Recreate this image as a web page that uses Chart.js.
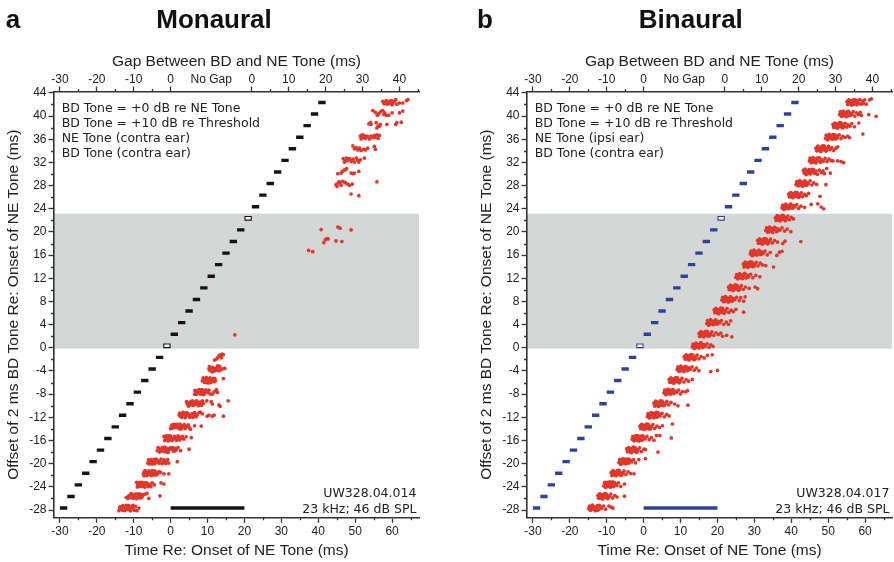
<!DOCTYPE html>
<html>
<head>
<meta charset="utf-8">
<script src="https://cdn.jsdelivr.net/npm/chart.js@4.4.1/dist/chart.umd.min.js"></script>
<style>
  body { margin: 0; background: #fff; }
  #wrap { position: relative; width: 894px; height: 562px; overflow: hidden; }
  canvas { position: absolute; top: 0; }
</style>
</head>
<body>
<div id="wrap">
  <canvas id="monaural" width="447" height="562" style="left:0"></canvas>
  <canvas id="binaural" width="447" height="562" style="left:447px"></canvas>
</div>
<script>
// Raster rows: offset of the 2 ms BD tone re NE tone onset (ms)
const rowOffsets = [-28, -26, -24, -22, -20, -18, -16, -14, -12, -10, -8, -6, -4, -2, 0, 2, 4, 6, 8, 10, 12, 14, 16, 18, 20, 22, 24, 26, 28, 30, 32, 34, 36, 38, 40, 42];
const openRows = [0, 22];          // drawn as open boxes
const shadedBand = [-0.15, 23.15]; // BD tone overlapping NE tone
const neTone = [0, 20];            // NE tone duration bar (ms)
const bdDuration = 2;
const rowLift = 0.35;

const yTicks = [-28, -24, -20, -16, -12, -8, -4, 0, 4, 8, 12, 16, 20, 24, 28, 32, 36, 40, 44];
const yMinorTicks = [-26, -22, -18, -14, -10, -6, -2, 2, 6, 10, 14, 18, 22, 26, 30, 34, 38, 42];
const xTicks = [-30, -20, -10, 0, 10, 20, 30, 40, 50, 60];
const xMinorTicks = [-25, -15, -5, 5, 15, 25, 35, 45, 55, 65];
const gapTickPos = [-30, -20, -10, 0, 11, 22, 32, 42, 52, 62];
const gapTickLabels = ['-30', '-20', '-10', '0', 'No Gap', '0', '10', '20', '30', '40'];
const gapMinorTicks = [-25, -15, -5, 27, 37, 47, 57, 67];

const monauralNotes = ['BD Tone = +0 dB re NE Tone', 'BD Tone = +10 dB re Threshold', 'NE Tone (contra ear)', 'BD Tone (contra ear)'];
const binauralNotes = ['BD Tone = +0 dB re NE Tone', 'BD Tone = +10 dB re Threshold', 'NE Tone (ipsi ear)', 'BD Tone (contra ear)'];
const monauralUnit = ['UW328.04.014', '23 kHz; 46 dB SPL'];
const binauralUnit = ['UW328.04.017', '23 kHz; 46 dB SPL'];

// spikes: [row offset, [[time ms, height within row], ...]]
const monauralSpikes = [
  [-28, [[-14.0,-0.45],[-13.8,0.1],[-13.6,0.2],[-13.4,-0.15],[-13.1,-0.35],[-12.9,0.4],[-12.7,0.15],[-12.5,-0.45],[-12.2,0.1],[-12.0,0.45],[-11.8,-0.15],[-11.6,-0.3],[-11.5,0.35],[-11.3,0.4],[-11.0,0.1],[-10.9,-0.45],[-10.6,0.2],[-10.4,0.1],[-10.2,0.45],[-10.0,-0.15],[-9.8,-0.4],[-9.5,0.3],[-9.1,-0.45],[-8.6,0]]],
  [-26, [[-12.0,-0.15],[-11.6,-0.35],[-11.3,0.1],[-11.0,-0.2],[-10.9,0.25],[-10.7,0.5],[-10.4,0.4],[-10.2,-0.3],[-10.0,0],[-9.8,0.15],[-9.5,0.4],[-9.3,-0.4],[-9.1,-0.15],[-8.8,0.45],[-8.6,0.1],[-8.4,-0.25],[-8.2,0.4],[-7.9,-0.2],[-7.7,0],[-7.4,0.3],[-6.8,0.4],[-6.4,0.55],[-5.9,-0.35],[-2.9,0.1]]],
  [-24, [[-9.2,0.45],[-9.0,-0.35],[-8.9,0],[-8.6,-0.25],[-8.4,0.45],[-8.2,0.15],[-8.0,-0.05],[-7.9,-0.3],[-7.7,0.45],[-7.5,0.15],[-7.3,-0.1],[-7.0,-0.4],[-6.8,0.35],[-6.6,0.4],[-6.4,0],[-6.1,-0.3],[-5.9,0.15],[-5.6,0],[-5.3,-0.3],[-5.0,0.35],[-4.4,0],[-2.6,0.35],[-1.8,0.15]]],
  [-22, [[-7.4,-0.1],[-7.2,-0.45],[-7.1,0.3],[-6.9,0.45],[-6.8,0.05],[-6.5,-0.4],[-6.2,0.15],[-6.0,-0.25],[-5.9,0.4],[-5.6,-0.1],[-5.4,0.2],[-5.2,-0.4],[-5.0,0.45],[-4.8,0],[-4.5,-0.3],[-4.3,0.4],[-4.1,0.15],[-3.9,-0.3],[-3.5,-0.1],[-3.2,0.3],[-2.7,0.15],[-1.8,-0.1],[-0.5,-0.1]]],
  [-20, [[-6.2,-0.25],[-6.0,0.3],[-5.8,-0.4],[-5.6,0],[-5.3,0.35],[-5.0,-0.4],[-4.8,0.05],[-4.5,0.35],[-4.3,-0.35],[-4.1,-0.1],[-3.9,0.45],[-3.6,0.15],[-3.4,0.1],[-3.2,-0.25],[-2.9,0.1],[-2.6,0.45],[-2.3,-0.35],[-2.0,-0.1],[-1.8,0.3],[-1.6,0.15],[-1.3,-0.3],[-1.1,0],[-0.8,0.35],[-0.5,-0.25],[1.8,0]]],
  [-18, [[-3.6,-0.1],[-3.4,0.45],[-3.2,0.3],[-3.0,-0.35],[-2.7,0.05],[-2.5,-0.1],[-2.3,0.45],[-2.0,-0.2],[-1.8,0.15],[-1.6,0.5],[-1.4,-0.3],[-1.1,-0.05],[-0.9,0.3],[-0.7,-0.4],[-0.5,0.05],[-0.2,0.2],[0.0,0.45],[0.4,0.15],[0.6,0.45],[0.8,-0.2],[1.1,-0.1],[1.35,0.3],[1.6,0.05],[2.0,0.45],[2.7,-0.1],[5.0,0.15]]],
  [-16, [[-1.8,0.35],[-1.6,-0.35],[-1.4,-0.1],[-1.1,0.45],[-0.9,0.15],[-0.7,-0.4],[-0.5,0.45],[-0.4,0.1],[-0.2,-0.25],[0.0,0.4],[0.2,0],[0.4,-0.35],[0.7,-0.1],[0.9,0.1],[1.0,0.35],[1.35,0.15],[1.6,-0.3],[1.8,0],[2.0,0.45],[2.2,0.3],[2.5,-0.25],[2.7,0.15],[3.0,0.05],[3.2,0.35],[3.6,-0.1],[4.2,0.3],[5.6,0.15]]],
  [-14, [[0.0,-0.3],[0.2,0.15],[0.4,0.35],[0.6,-0.2],[0.9,0.45],[1.1,0.2],[1.35,-0.1],[1.6,0.45],[1.8,0.15],[2.0,-0.05],[2.3,-0.3],[2.5,0.5],[2.7,0.3],[2.9,-0.35],[3.0,-0.05],[3.4,0.15],[3.7,0.4],[3.9,-0.3],[4.1,-0.1],[4.5,0.15],[4.8,0.35],[5.1,-0.15],[5.4,-0.4],[6.5,0.2],[8.3,0.15]]],
  [-12, [[2.3,0.05],[2.5,0.4],[2.7,-0.15],[3.0,-0.35],[3.2,0.25],[3.4,0.5],[3.6,0.05],[3.9,-0.4],[4.1,-0.15],[4.3,0.45],[4.5,0.25],[4.8,0.3],[5.0,-0.05],[5.2,-0.35],[5.4,0.05],[5.9,0.3],[6.0,-0.35],[6.3,-0.15],[6.5,0.45],[6.7,0.2],[6.9,-0.25],[7.2,0.05],[7.7,0.5],[8.1,0.5],[8.6,0.25],[9.9,-0.15],[10.4,0.05],[11.3,-0.15],[11.8,0.05],[14.3,-0.15]]],
  [-10, [[4.3,0.35],[4.5,-0.05],[4.8,-0.4],[5.0,0.25],[5.2,0.1],[5.4,-0.2],[5.6,0.35],[5.9,0.5],[6.1,-0.3],[6.3,0.1],[6.6,-0.1],[6.8,0.35],[7.0,0.5],[7.2,-0.05],[7.5,-0.35],[7.7,0.25],[8.0,0.3],[8.2,-0.1],[8.4,-0.3],[8.6,0.5],[8.9,0.1],[9.8,0.5],[11.0,0.35],[11.3,-0.05],[13.1,-0.2],[13.4,-0.45],[15.6,0.5]]],
  [-8, [[6.5,-0.35],[6.6,0.3],[6.8,0.15],[7.0,-0.4],[7.1,0.2],[7.4,-0.05],[7.7,0.45],[8.0,0.35],[8.1,-0.35],[8.3,0.05],[8.5,0.45],[8.6,-0.25],[8.9,0.2],[9.0,-0.45],[9.2,-0.2],[9.5,0.4],[9.8,0.2],[10.1,-0.05],[10.4,0.35],[10.7,-0.3],[11.3,-0.35],[11.8,0.05],[12.2,0.2],[12.4,0.45],[12.7,-0.05]]],
  [-6, [[8.6,-0.05],[8.8,0.45],[9.05,0.35],[9.2,-0.3],[9.5,0.25],[9.7,0.5],[9.8,-0.35],[10.1,-0.05],[10.3,-0.4],[10.5,0.3],[10.7,0.45],[10.9,-0.35],[11.1,0],[11.3,0.25],[11.6,0.4],[11.8,-0.2],[12.0,0.35],[12.2,-0.05],[14.3,0.35]]],
  [-4, [[10.4,0],[10.5,0.4],[10.7,-0.3],[10.9,-0.1],[11.0,0.25],[11.3,-0.5],[11.4,0.3],[11.6,0],[11.9,-0.35],[12.2,0.1],[12.4,-0.2],[12.7,0.55],[12.9,0.2],[13.1,-0.3],[13.3,0.45],[13.6,-0.15],[14.0,0],[14.7,0.1]]],
  [-2, [[11.9,-0.45],[12.5,-0.25],[12.8,0],[13.1,0.25],[13.3,0.4],[13.6,0.35],[13.8,-0.05],[14.0,0.55],[14.3,0.45]]],
  [2, [[17.4,-0.1]]],
  [16, [[37.4,0.45],[38.5,0.25]]],
  [18, [[41.5,-0.2],[41.9,0.3],[42.3,0.5],[42.7,0.45],[44.8,0.1],[46.4,0]]],
  [20, [[40.8,0.05],[45.3,0.5],[45.9,0.3],[48.9,0]]],
  [26, [[48.9,0.2],[51.0,-0.1]]],
  [28, [[44.8,-0.2],[45.1,-0.5],[45.4,0.1],[45.6,0.3],[45.9,0.1],[46.2,-0.3],[46.5,0.4],[46.9,0.3],[47.4,0.1],[48.0,-0.1],[48.5,-0.3],[49.2,-0.1],[55.9,0.3]]],
  [30, [[45.3,-0.3],[46.2,-0.2],[46.5,0.1],[47.0,0.3],[47.4,0.4],[47.7,0.6],[48.9,-0.2],[49.4,-0.3],[49.8,-0.2],[51.0,0.1]]],
  [32, [[46.8,0.3],[47.1,-0.3],[47.4,-0.1],[47.7,0.4],[48.0,0],[48.5,0.3],[48.9,-0.2],[49.4,0.2],[49.8,-0.3],[50.3,0.4],[50.7,0],[51.0,-0.3],[51.4,0.1],[52.5,0.4]]],
  [34, [[49.4,0.5],[49.8,0],[50.3,0.2],[50.7,-0.2],[51.2,0.1],[51.6,-0.3],[52.3,-0.1],[52.8,-0.2],[53.4,0.1],[55.2,0.4],[55.5,-0.1]]],
  [36, [[51.4,0.2],[51.6,-0.3],[51.9,0.4],[52.1,-0.1],[52.3,0.3],[52.8,-0.2],[53.1,0.2],[53.4,0.1],[53.9,-0.3],[54.3,0.2],[54.8,-0.1],[55.2,0.3],[55.5,0],[55.9,0.4],[56.2,-0.2],[56.6,0.3]]],
  [38, [[53.7,0.3],[54.2,0.5],[54.3,0.2],[55.7,0.5],[56.2,-0.1],[56.6,-0.1],[55.9,-0.4],[56.8,0.2],[58.6,0.2],[61.0,0.2],[61.3,0.5],[62.5,0.6]]],
  [40, [[54.8,0.6],[55.5,0.3],[56.0,-0.2],[56.2,-0.1],[56.6,0.2],[57.1,0.5],[57.5,0.6],[57.8,-0.1],[58.0,0.2],[58.4,-0.2],[59.1,-0.2],[60.0,0.2],[62.0,0.2],[62.9,0.5]]],
  [42, [[57.5,0.2],[57.8,-0.2],[58.0,-0.1],[58.2,-0.2],[58.4,0.3],[58.7,-0.3],[59.0,0],[59.3,0.2],[59.6,-0.2],[59.8,0.3],[60.0,-0.4],[60.2,-0.1],[60.6,0.2],[61.0,0.5],[61.3,-0.3],[62.0,-0.1],[62.9,-0.1],[63.9,0.3],[64.3,0.5]]]
];

const binauralSpikes = [
  [-28, [[-14.9,-0.1],[-14.7,0.35],[-14.6,-0.15],[-14.4,-0.4],[-14.2,0.1],[-14.0,0.2],[-13.9,0.5],[-13.6,-0.2],[-13.4,0.25],[-13.3,-0.05],[-13.1,-0.45],[-12.8,0.05],[-12.6,-0.4],[-12.5,0.4],[-12.2,-0.3],[-12.0,0.45],[-11.8,0.2],[-11.4,-0.05],[-10.9,0.35],[-10.3,-0.2],[-9.4,0.35],[-8.8,0.15],[-8.3,0]]],
  [-26, [[-12.4,0.15],[-12.2,-0.3],[-12.0,0.05],[-11.9,0.45],[-11.7,-0.05],[-11.5,-0.3],[-11.4,0.3],[-11.1,-0.45],[-10.9,0.1],[-10.8,-0.2],[-10.6,0.5],[-10.3,-0.2],[-10.2,0.45],[-10.0,0.25],[-9.7,-0.4],[-9.5,-0.15],[-9.3,0.05],[-8.9,0.4],[-8.4,-0.25],[-7.8,0.15],[-7.2,-0.1],[-5.2,0.05]]],
  [-24, [[-10.8,-0.2],[-10.6,0.3],[-10.5,0.45],[-10.3,-0.45],[-10.1,0.05],[-9.9,-0.3],[-9.8,0.45],[-9.5,-0.15],[-9.3,0.25],[-9.2,0.5],[-9.0,-0.4],[-8.7,0.1],[-8.6,-0.2],[-8.4,0.5],[-8.1,-0.3],[-7.9,0.4],[-7.7,0.2],[-7.3,-0.1],[-6.8,0.35],[-6.2,-0.25],[-5.2,0.15]]],
  [-22, [[-8.8,0.1],[-8.6,-0.4],[-8.5,0.3],[-8.3,0.45],[-8.1,-0.1],[-7.9,-0.25],[-7.8,0.3],[-7.5,-0.45],[-7.3,0.15],[-7.2,-0.15],[-7.0,0.5],[-6.7,-0.25],[-6.6,0.45],[-6.4,0.2],[-6.1,-0.35],[-5.9,-0.3],[-5.7,0.05],[-5.3,0.4],[-4.8,-0.2],[-4.2,0.25],[-3.5,-0.05],[-2.6,-0.1]]],
  [-20, [[-6.7,-0.15],[-6.5,0.35],[-6.4,0.1],[-6.2,-0.45],[-6.0,0.1],[-5.9,-0.3],[-5.7,0.5],[-5.4,-0.2],[-5.2,0.25],[-5.0,0.45],[-4.9,-0.35],[-4.6,0.05],[-4.4,-0.2],[-4.3,0.45],[-4.0,-0.25],[-3.8,0.4],[-3.6,0.2],[-3.2,-0.05],[-2.7,0.35],[-2.2,-0.2],[-1.3,0.35],[0.5,0.55]]],
  [-18, [[-4.6,0.2],[-4.4,-0.3],[-4.3,0.25],[-4.1,0.45],[-3.9,-0.05],[-3.7,-0.3],[-3.6,0.3],[-3.3,-0.45],[-3.1,0.1],[-3.0,-0.15],[-2.8,0.5],[-2.5,-0.2],[-2.4,0.45],[-2.2,0.25],[-1.9,-0.4],[-1.7,-0.2],[-1.5,0.05],[-1.1,0.4],[-0.6,-0.25],[0.1,0.15],[0.5,0.1],[3.9,-0.35]]],
  [-16, [[-3.1,-0.1],[-2.9,0.35],[-2.8,-0.2],[-2.6,-0.4],[-2.4,0.1],[-2.2,-0.3],[-2.1,0.5],[-1.8,-0.2],[-1.6,0.25],[-1.5,0.45],[-1.3,-0.45],[-1.0,0.05],[-0.9,-0.25],[-0.7,0.4],[-0.4,-0.3],[-0.2,0.45],[0.0,0.2],[0.4,-0.05],[0.9,0.35],[1.5,-0.2],[2.1,0.15],[2.8,-0.3],[3.5,0.5],[4.4,0.5],[7.5,0.1]]],
  [-14, [[-1.0,0.15],[-0.8,-0.3],[-0.7,0.3],[-0.5,0.45],[-0.3,-0.05],[-0.1,-0.35],[0.0,0.3],[0.3,-0.45],[0.5,0.1],[0.6,-0.2],[0.8,0.5],[1.1,-0.2],[1.2,0.45],[1.4,0.25],[1.7,-0.4],[1.9,-0.15],[2.1,0.05],[2.5,0.4],[3.0,-0.25],[3.6,0.15],[4.3,-0.1],[5.1,0.2],[7.8,0.5]]],
  [-12, [[1.0,-0.2],[1.2,0.3],[1.3,-0.05],[1.5,-0.45],[1.7,0.05],[1.9,-0.35],[2.0,0.45],[2.3,-0.15],[2.5,0.25],[2.6,0.4],[2.8,-0.4],[3.1,0.1],[3.3,-0.2],[3.4,0.5],[3.7,-0.3],[3.9,0.45],[4.1,0.2],[4.5,-0.1],[5.0,0.35],[5.6,-0.25],[6.2,0.15],[6.9,-0.1]]],
  [-10, [[2.8,0.1],[3.0,-0.4],[3.1,0.2],[3.3,0.45],[3.5,-0.1],[3.7,-0.35],[3.8,0.3],[4.1,-0.45],[4.3,0.15],[4.4,-0.1],[4.6,0.5],[4.9,-0.25],[5.0,0.45],[5.2,0.2],[5.5,-0.35],[5.7,-0.15],[5.9,0.05],[6.3,0.4],[6.8,-0.2],[7.4,0.25],[8.4,-0.05],[9.3,-0.35],[12.0,-0.25]]],
  [-8, [[5.5,-0.15],[5.7,0.35],[5.8,0.1],[6.0,-0.45],[6.2,0.1],[6.3,-0.3],[6.5,0.5],[6.8,-0.2],[6.9,0.45],[7.0,0.25],[7.3,-0.35],[7.4,-0.1],[7.6,0.05],[7.9,0.45],[8.0,0.3],[8.2,-0.25],[8.6,0.2],[9.0,-0.05],[9.5,0.35],[10.0,-0.3],[10.5,0.1],[11.4,0.05],[11.9,0.25]]],
  [-6, [[6.9,0.2],[7.1,-0.3],[7.2,0.05],[7.4,0.45],[7.6,-0.05],[7.8,-0.35],[7.9,0.3],[8.2,-0.45],[8.4,0.1],[8.5,-0.1],[8.7,0.5],[9.0,-0.2],[9.1,0.45],[9.3,0.25],[9.6,-0.4],[9.8,-0.25],[10.0,0.05],[10.4,0.4],[10.9,-0.25],[11.5,0.15],[12.2,-0.1],[13.2,0.2]]],
  [-4, [[9.1,-0.1],[9.3,0.35],[9.4,0.1],[9.6,-0.4],[9.8,0.1],[9.9,-0.35],[10.1,0.5],[10.4,-0.2],[10.6,0.25],[10.7,-0.1],[10.9,-0.45],[11.2,0.05],[11.3,0.45],[11.5,0.4],[11.8,-0.3],[12.0,-0.2],[12.2,0.2],[12.6,-0.05],[13.1,0.35],[13.7,-0.2],[14.3,0.15],[15.0,-0.3],[18.2,-0.45],[20.0,-0.25]]],
  [-2, [[11.0,0.15],[11.2,-0.3],[11.3,0.05],[11.5,0.45],[11.7,-0.05],[11.9,-0.3],[12.0,0.3],[12.3,-0.45],[12.5,0.1],[12.6,-0.1],[12.8,0.5],[13.1,-0.2],[13.3,0.45],[13.4,0.25],[13.7,-0.4],[14.0,-0.25],[14.1,0.05],[14.5,0.4],[15.0,-0.25],[15.6,0.15],[16.4,-0.1],[17.3,0.35],[18.6,0.45]]],
  [0, [[13.2,-0.2],[13.4,0.3],[13.5,0.1],[13.7,-0.45],[13.9,0.05],[14.1,-0.3],[14.2,0.45],[14.5,-0.15],[14.7,0.25],[14.8,-0.1],[15.0,-0.4],[15.3,0.1],[15.4,0.45],[15.6,0.5],[15.9,-0.3],[16.1,-0.2],[16.3,0.2],[16.7,-0.1],[17.2,0.35],[17.7,-0.25],[18.2,0.15],[18.8,-0.1]]],
  [2, [[15.0,0.1],[15.2,-0.4],[15.3,0.2],[15.5,0.45],[15.7,-0.1],[15.9,-0.25],[16.0,0.3],[16.3,-0.45],[16.5,0.15],[16.6,-0.15],[16.8,0.5],[17.1,-0.25],[17.3,0.45],[17.4,0.2],[17.7,-0.35],[18.0,-0.2],[18.1,0.05],[18.5,0.4],[19.0,-0.2],[19.6,0.25],[20.2,-0.05],[20.9,0.2],[21.4,-0.35],[22.5,-0.2],[23.9,-0.45]]],
  [4, [[17.1,-0.15],[17.3,0.35],[17.4,0.05],[17.6,-0.45],[17.8,0.1],[18.0,-0.3],[18.1,0.5],[18.4,-0.2],[18.6,0.25],[18.7,-0.1],[18.9,-0.35],[19.2,0.05],[19.4,0.45],[19.5,0.45],[19.8,-0.25],[20.0,-0.2],[20.2,0.2],[20.6,-0.05],[21.1,0.35],[21.7,-0.3],[22.4,0.1],[23.0,-0.3],[23.6,0.3]]],
  [6, [[19.1,0.2],[19.3,-0.3],[19.4,0.1],[19.6,0.45],[19.8,-0.05],[20.0,-0.35],[20.1,0.3],[20.4,-0.45],[20.6,0.1],[20.8,-0.1],[20.9,0.5],[21.2,-0.2],[21.4,0.45],[21.5,0.25],[21.8,-0.4],[22.0,-0.25],[22.2,0.05],[22.6,0.4],[23.1,-0.25],[23.7,0.15],[24.3,-0.1],[25.0,0.3],[27.1,-0.2]]],
  [8, [[21.2,-0.1],[21.4,0.35],[21.5,0.1],[21.7,-0.4],[21.9,0.1],[22.0,-0.3],[22.2,0.5],[22.5,-0.2],[22.7,0.25],[22.8,-0.1],[23.0,-0.45],[23.3,0.05],[23.5,0.45],[23.6,0.4],[23.9,-0.3],[24.1,-0.2],[24.3,0.2],[24.7,-0.05],[25.2,0.35],[25.9,-0.2],[26.3,0.3],[27.5,0.45],[27.1,-0.3]]],
  [10, [[23.0,0.15],[23.2,-0.3],[23.3,0.05],[23.5,0.45],[23.7,-0.05],[23.9,-0.35],[24.0,0.3],[24.3,-0.45],[24.5,0.1],[24.6,-0.1],[24.8,0.5],[25.1,-0.2],[25.3,0.45],[25.4,0.25],[25.7,-0.4],[26.0,-0.25],[26.1,0.05],[26.5,0.4],[27.0,-0.25],[27.6,0.15],[28.6,-0.1],[30.2,0.15],[30.9,-0.15]]],
  [12, [[25.0,-0.2],[25.2,0.3],[25.3,0.15],[25.5,-0.45],[25.7,0.05],[25.9,-0.3],[26.0,0.45],[26.3,-0.15],[26.5,0.25],[26.6,-0.05],[26.8,-0.4],[27.1,0.1],[27.3,0.45],[27.4,0.5],[27.7,-0.3],[28.0,-0.2],[28.1,0.2],[28.5,-0.1],[29.0,0.35],[29.6,-0.25],[30.4,0.15],[31.5,-0.1]]],
  [14, [[27.0,0.1],[27.2,-0.4],[27.3,0.15],[27.5,0.45],[27.7,-0.1],[27.9,-0.3],[28.0,0.3],[28.3,-0.45],[28.5,0.15],[28.6,-0.1],[28.8,0.5],[29.1,-0.25],[29.3,0.45],[29.4,0.2],[29.7,-0.35],[30.0,-0.2],[30.1,0.05],[30.5,0.4],[31.0,-0.2],[31.6,0.25],[32.2,-0.05],[33.1,-0.15],[35.2,-0.4]]],
  [16, [[28.9,-0.15],[29.1,0.35],[29.2,0.05],[29.4,-0.45],[29.6,0.1],[29.8,-0.3],[29.9,0.5],[30.2,-0.2],[30.4,0.25],[30.5,-0.05],[30.7,-0.35],[31.0,0.05],[31.2,0.45],[31.3,0.45],[31.6,-0.25],[31.9,-0.2],[32.0,0.2],[32.4,-0.05],[32.9,0.35],[33.5,-0.3],[34.3,0.1],[36.1,-0.4],[36.8,0.15],[37.5,0.3]]],
  [18, [[30.9,0.2],[31.1,-0.3],[31.2,0.1],[31.4,0.45],[31.6,-0.05],[31.8,-0.35],[31.9,0.3],[32.2,-0.45],[32.4,0.1],[32.5,-0.1],[32.7,0.5],[33.0,-0.2],[33.2,0.45],[33.3,0.25],[33.6,-0.4],[33.9,-0.2],[34.0,0.05],[34.4,0.4],[34.9,-0.25],[35.5,0.15],[36.3,-0.1],[37.7,-0.35],[38.3,0.05],[42.6,0]]],
  [20, [[33.1,-0.1],[33.3,0.35],[33.4,0.1],[33.6,-0.4],[33.8,0.1],[34.0,-0.3],[34.1,0.5],[34.4,-0.2],[34.7,0.25],[34.8,-0.1],[35.0,-0.45],[35.3,0.05],[35.5,0.45],[35.6,0.4],[36.0,-0.3],[36.2,-0.2],[36.4,0.2],[36.9,-0.05],[37.5,0.35],[38.2,-0.2],[38.9,0.15],[39.9,-0.3]]],
  [22, [[35.7,0.1],[35.9,-0.35],[36.0,0.2],[36.2,0.45],[36.4,-0.05],[36.6,-0.3],[36.7,0.3],[37.0,-0.45],[37.2,0.15],[37.3,-0.15],[37.5,0.5],[37.8,-0.2],[37.9,0.45],[38.1,0.25],[38.4,-0.4],[38.6,-0.2],[38.7,0.05],[39.1,0.4],[39.5,-0.25],[40.0,0.15],[40.6,-0.1]]],
  [24, [[37.5,-0.2],[37.7,0.3],[37.8,0.1],[38.0,-0.45],[38.2,0.1],[38.4,-0.35],[38.5,0.45],[38.8,-0.15],[39.0,0.25],[39.1,-0.1],[39.3,-0.35],[39.6,0.05],[39.8,0.45],[39.9,0.4],[40.2,-0.25],[40.4,-0.2],[40.6,0.2],[41.0,-0.05],[41.5,0.35],[42.0,-0.3],[42.6,0.1],[43.6,-0.1],[45.4,0.4],[47.2,0.5],[48.1,-0.05],[48.8,-0.35]]],
  [26, [[39.3,0.2],[39.5,-0.3],[39.6,0.05],[39.8,0.45],[40.0,-0.05],[40.2,-0.3],[40.3,0.3],[40.5,-0.45],[40.8,0.1],[40.9,-0.15],[41.1,0.5],[41.4,-0.2],[41.6,0.45],[41.7,0.25],[42.0,-0.4],[42.2,-0.2],[42.3,0.05],[42.7,0.4],[43.1,-0.25],[43.6,0.15],[44.1,-0.1],[44.7,0.3],[47.8,-0.2]]],
  [28, [[41.3,-0.15],[41.5,0.35],[41.6,0.1],[41.8,-0.4],[42.0,0.1],[42.2,-0.3],[42.3,0.5],[42.6,-0.2],[42.8,0.25],[42.9,-0.1],[43.1,-0.45],[43.4,0.05],[43.6,0.45],[43.7,0.4],[44.0,-0.3],[44.2,-0.2],[44.3,0.2],[44.7,-0.05],[45.1,0.45],[45.6,-0.25],[46.1,0.1],[46.9,-0.15],[49.4,-0.2]]],
  [30, [[43.3,0.3],[43.5,-0.2],[43.6,0.05],[43.8,0.5],[44.0,-0.45],[44.2,-0.3],[44.3,0.1],[44.6,-0.15],[44.8,0.4],[44.9,-0.05],[45.1,-0.35],[45.4,0.2],[45.6,0.45],[45.7,0],[46.0,0.45],[46.2,-0.2],[46.3,-0.25],[46.7,0.15],[47.1,-0.4],[47.6,0.3],[48.2,-0.1],[48.6,0.2],[49.0,-0.3],[49.6,0.6],[50.6,-0.2]]],
  [32, [[44.9,-0.1],[45.1,0.4],[45.2,0.05],[45.4,-0.4],[45.6,0.15],[45.8,-0.3],[45.9,0.5],[46.1,-0.25],[46.4,0.2],[46.5,-0.1],[46.7,-0.45],[47.0,0.3],[47.2,0.45],[47.3,-0.05],[47.6,0.45],[47.8,-0.2],[47.9,-0.3],[48.3,0.1],[48.7,-0.15],[49.2,0.35],[49.7,-0.2],[50.2,0.2],[50.8,-0.05],[51.3,-0.1],[52.6,-0.1],[53.5,-0.2],[54.2,-0.4]]],
  [34, [[46.7,0.1],[46.9,-0.35],[47.0,0.15],[47.2,0.45],[47.4,-0.05],[47.6,-0.3],[47.7,0.3],[48.0,-0.45],[48.2,0.15],[48.3,-0.1],[48.5,0.5],[48.8,-0.2],[49.0,0.45],[49.1,0.25],[49.4,-0.4],[49.6,-0.2],[49.7,0.05],[50.1,0.4],[50.5,-0.15],[51.0,0.2],[51.5,-0.3],[52.1,0.1],[52.6,0.35]]],
  [36, [[49.3,-0.2],[49.5,0.35],[49.6,0.1],[49.8,-0.45],[50.0,0.1],[50.2,-0.3],[50.3,0.5],[50.5,-0.15],[50.8,0.25],[50.9,-0.1],[51.1,-0.35],[51.3,0.45],[51.6,0.45],[51.6,0],[51.9,-0.3],[52.2,0.3],[52.3,-0.2],[52.6,-0.1],[53.0,0.4],[53.5,-0.25],[54.0,0.15],[54.6,-0.05],[55.3,0.2],[55.8,-0.1],[59.4,0.55]]],
  [38, [[51.3,0.2],[51.5,-0.3],[51.6,0.05],[51.8,0.45],[52.0,-0.05],[52.2,-0.3],[52.3,0.3],[52.5,-0.45],[52.8,0.1],[52.9,-0.15],[53.1,0.5],[53.3,-0.2],[53.6,0.45],[53.6,0.25],[53.9,-0.4],[54.2,0.05],[54.3,-0.2],[54.6,0.4],[55.0,-0.25],[55.4,0.15],[55.9,-0.1],[56.4,0.35],[57.1,-0.2],[58.3,0.45]]],
  [40, [[53.1,-0.1],[53.3,0.4],[53.4,0.1],[53.6,-0.4],[53.8,0.1],[54.0,-0.3],[54.1,0.5],[54.3,-0.2],[54.6,0.25],[54.7,-0.1],[54.9,-0.45],[55.1,0.05],[55.4,0.45],[55.4,0.45],[55.7,-0.3],[56.0,0.15],[56.1,-0.2],[56.4,-0.05],[56.8,0.4],[57.2,-0.35],[57.7,0.2],[58.2,-0.1],[58.7,0.3],[59.0,-0.25],[61.0,-0.1],[63.0,-0.4]]],
  [42, [[55.1,0.15],[55.3,-0.35],[55.4,0.05],[55.6,0.45],[55.8,-0.05],[56.0,-0.2],[56.1,0.3],[56.3,-0.45],[56.6,0.1],[56.7,-0.35],[56.9,0.5],[57.1,-0.25],[57.3,0.45],[57.4,0.2],[57.8,-0.4],[58.0,0.35],[58.1,-0.2],[58.3,-0.1],[58.6,0.5],[58.9,-0.3],[59.3,0.25],[59.6,-0.15],[59.9,0.45],[60.3,-0.3],[61.2,0.45],[61.7,0.6]]]
];

const FONT = '"Liberation Sans", Arial, Helvetica, sans-serif';
const NOTE_FONT = '12.5px "DejaVu Sans", Verdana, sans-serif';
const INK = '#222';
const AXIS = '#333';
const SPIKE_RED = '#e2362b';

Chart.defaults.font.family = FONT;
Chart.defaults.color = INK;

function spikePoints(rows) {
  const pts = [];
  rows.forEach(([offset, spikes]) => {
    spikes.forEach(([t, dy]) => pts.push({ x: t, y: offset + rowLift + dy }));
  });
  return pts;
}

function segments(offsets, from, to) {
  const pts = [];
  offsets.forEach(o => {
    const y = o + rowLift;
    pts.push({ x: o + from, y: y }, { x: o + to, y: y }, { x: o + to, y: null });
  });
  return pts;
}

function buildPanel(canvasId, opts) {
  const closedRows = rowOffsets.filter(o => !openRows.includes(o));
  const lineBase = { type: 'line', pointRadius: 0, fill: false, spanGaps: false, tension: 0, borderCapStyle: 'butt' };

  const decor = {
    id: 'decor',
    beforeDraw(chart) {
      const { ctx, chartArea: a, scales: { y } } = chart;
      const top = y.getPixelForValue(shadedBand[1]);
      const bot = y.getPixelForValue(shadedBand[0]);
      ctx.save();
      ctx.fillStyle = '#d5d7d7';
      ctx.fillRect(a.left, top, a.right - a.left, bot - top);
      ctx.restore();
    },
    afterDraw(chart) {
      const { ctx, chartArea: a, scales } = chart;
      ctx.save();
      // minor ticks
      ctx.strokeStyle = AXIS;
      ctx.lineWidth = 1.3;
      ctx.beginPath();
      xMinorTicks.forEach(v => {
        const px = Math.round(scales.x.getPixelForValue(v)) + 0.5;
        ctx.moveTo(px, a.bottom); ctx.lineTo(px, a.bottom + 3);
      });
      gapMinorTicks.forEach(v => {
        const px = Math.round(scales.x2.getPixelForValue(v)) + 0.5;
        ctx.moveTo(px, a.top); ctx.lineTo(px, a.top - 3);
      });
      yMinorTicks.forEach(v => {
        const py = Math.round(scales.y.getPixelForValue(v)) + 0.5;
        ctx.moveTo(a.left, py); ctx.lineTo(a.left - 3, py);
      });
      ctx.stroke();

      // notes, upper left
      ctx.fillStyle = INK;
      ctx.font = NOTE_FONT;
      ctx.textBaseline = 'middle';
      ctx.textAlign = 'left';
      opts.notes.forEach((s, i) => ctx.fillText(s, a.left + 7.7, a.top + 16.3 + i * 15.2));
      // unit id, lower right
      ctx.textAlign = 'right';
      ctx.fillText(opts.unit[0], a.right - 2.6, a.bottom - 23.3);
      ctx.fillText(opts.unit[1], a.right - 2.6, a.bottom - 8);

      // panel letter and title
      ctx.font = 'bold 26px ' + FONT;
      ctx.textBaseline = 'alphabetic';
      ctx.textAlign = 'left';
      ctx.fillStyle = '#111';
      ctx.fillText(opts.letter, opts.letterX, 28);
      ctx.textAlign = 'center';
      ctx.fillText(opts.title, opts.titleX, 28);
      ctx.restore();
    }
  };

  const tickFont = { family: FONT, size: 12 };
  const titleFont = { family: FONT, size: 15.5 };

  return new Chart(document.getElementById(canvasId), {
    type: 'scatter',
    data: {
      datasets: [
        {
          label: 'spikes',
          data: spikePoints(opts.spikes),
          pointRadius: 1.85,
          pointHoverRadius: 1.85,
          backgroundColor: SPIKE_RED,
          borderWidth: 0
        },
        Object.assign({}, lineBase, {
          label: 'open inner',
          data: segments(openRows, -bdDuration + 0.3, -0.3),
          borderColor: '#ffffff',
          borderWidth: 2.4
        }),
        Object.assign({}, lineBase, {
          label: 'open outer',
          data: segments(openRows, -bdDuration, 0),
          borderColor: opts.toneColor,
          borderWidth: 4.8
        }),
        Object.assign({}, lineBase, {
          label: 'BD tone',
          data: segments(closedRows, -bdDuration, 0),
          borderColor: opts.toneColor,
          borderWidth: 3.4
        }),
        Object.assign({}, lineBase, {
          label: 'NE tone',
          data: [{ x: neTone[0], y: rowOffsets[0] + rowLift }, { x: neTone[1], y: rowOffsets[0] + rowLift }],
          borderColor: opts.toneColor,
          borderWidth: 3.4
        })
      ]
    },
    options: {
      responsive: false,
      animation: false,
      events: [],
      layout: { padding: { left: 0, right: opts.padRight, top: 0, bottom: 0 } },
      plugins: { legend: { display: false }, tooltip: { enabled: false } },
      scales: {
        x: {
          type: 'linear', position: 'bottom', min: -31.6, max: 67.3,
          afterBuildTicks: s => { s.ticks = xTicks.map(v => ({ value: v })); },
          afterFit: s => { s.height = 44.7; s.paddingLeft = 0; s.paddingRight = 0; },
          grid: { drawOnChartArea: false, tickLength: 5.5, tickColor: AXIS, tickWidth: 1.3 },
          border: { color: AXIS, width: 1.6 },
          ticks: { autoSkip: false, maxRotation: 0, padding: 2, color: INK, font: tickFont, callback: v => String(v) },
          title: { display: true, text: 'Time Re: Onset of NE Tone (ms)', color: INK, font: titleFont, padding: { top: 0, bottom: 2 } }
        },
        x2: {
          type: 'linear', position: 'top', min: -31.6, max: 67.3,
          afterBuildTicks: s => { s.ticks = gapTickPos.map(v => ({ value: v })); },
          afterFit: s => { s.height = 92; s.paddingLeft = 0; s.paddingRight = 0; },
          grid: {
            drawOnChartArea: false, tickLength: 5.5, tickWidth: 1.3,
            tickColor: c => (gapTickLabels[c.index] === 'No Gap' ? 'rgba(0,0,0,0)' : AXIS)
          },
          border: { color: AXIS, width: 1.6 },
          ticks: { autoSkip: false, maxRotation: 0, padding: 0, color: INK, font: tickFont, callback: (v, i) => gapTickLabels[i] },
          title: { display: true, text: 'Gap Between BD and NE Tone (ms)', color: INK, font: titleFont, padding: { top: 52.5, bottom: 0 } }
        },
        y: {
          type: 'linear', position: 'left', min: -29.25, max: 44.15,
          afterBuildTicks: s => { s.ticks = yTicks.map(v => ({ value: v })); },
          afterFit: s => { s.width = opts.yWidth; },
          grid: { drawOnChartArea: false, tickLength: 5.5, tickColor: AXIS, tickWidth: 1.3 },
          border: { color: AXIS, width: 1.6 },
          ticks: { autoSkip: false, padding: 2, color: INK, font: tickFont, callback: v => String(v) },
          title: { display: true, text: 'Offset of 2 ms BD Tone Re: Onset of NE Tone (ms)', color: INK, font: titleFont, padding: { top: opts.yTitlePad, bottom: 0 } }
        }
      }
    },
    plugins: [decor]
  });
}

buildPanel('monaural', {
  spikes: monauralSpikes, notes: monauralNotes, unit: monauralUnit,
  toneColor: '#141414', letter: 'a', letterX: 5.7, title: 'Monaural', titleX: 214,
  yWidth: 54, yTitlePad: 4.7, padRight: 28
});

buildPanel('binaural', {
  spikes: binauralSpikes, notes: binauralNotes, unit: binauralUnit,
  toneColor: '#2c429c', letter: 'b', letterX: 30, title: 'Binaural', titleX: 243.8,
  yWidth: 80, yTitlePad: 30.7, padRight: 2
});
</script>
</body>
</html>
